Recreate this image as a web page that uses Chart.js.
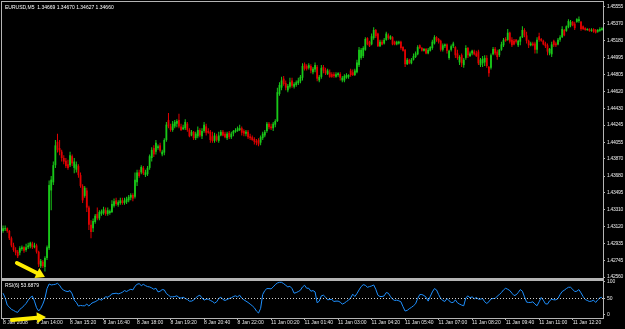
<!DOCTYPE html>
<html><head><meta charset="utf-8">
<script src="https://cdn.jsdelivr.net/npm/chart.js@4.4.1/dist/chart.umd.min.js"></script>
<style>
html,body{margin:0;padding:0;background:#000;width:625px;height:329px;overflow:hidden}
canvas{position:absolute;left:0;top:0}
</style></head><body>
<canvas id="main" width="625" height="329"></canvas>
<canvas id="rsi" width="625" height="329"></canvas>
<script>
const symbolTitle = 'EURUSD,M5  1.34669 1.34670 1.34627 1.34660';
const rsiTitle = 'RSI(6) 53.6879';
const timeTickIndex = [0,16,32,48,64,80,96,112,128,144,160,176,192,208,224,240,256,272];
const timeTickLabels = ['8 Jan 2008','8 Jan 14:00','8 Jan 15:20','8 Jan 16:40','8 Jan 18:00','8 Jan 19:20','8 Jan 20:40','8 Jan 22:00','11 Jan 00:20','11 Jan 01:40','11 Jan 03:00','11 Jan 04:20','11 Jan 05:40','11 Jan 07:00','11 Jan 08:20','11 Jan 09:40','11 Jan 11:00','11 Jan 12:20'];
const priceTicks = [1.42560,1.42745,1.42935,1.43120,1.43310,1.43495,1.43680,1.43870,1.44055,1.44245,1.44430,1.44620,1.44805,1.44995,1.45180,1.45370,1.45555];
const rsiTicks = [0,50,100];

const openP = [
1.4307,1.4309,1.4310,1.4307,1.4299,1.4291,1.4286,1.4284,1.4283,1.4287,
1.4289,1.4286,1.4289,1.4290,1.4293,1.4289,1.4291,1.4284,1.4268,1.4273,
1.4267,1.4277,1.4288,1.4352,1.4361,1.4380,1.4406,1.4399,1.4395,1.4388,
1.4385,1.4381,1.4380,1.4390,1.4377,1.4375,1.4379,1.4369,1.4357,1.4346,
1.4352,1.4333,1.4314,1.4310,1.4317,1.4326,1.4321,1.4326,1.4327,1.4330,
1.4326,1.4327,1.4328,1.4335,1.4341,1.4336,1.4338,1.4341,1.4338,1.4339,
1.4341,1.4344,1.4347,1.4345,1.4361,1.4372,1.4372,1.4377,1.4369,1.4370,
1.4377,1.4388,1.4399,1.4395,1.4399,1.4402,1.4392,1.4394,1.4408,1.4430,
1.4423,1.4419,1.4423,1.4426,1.4430,1.4423,1.4420,1.4421,1.4426,1.4419,
1.4413,1.4417,1.4410,1.4412,1.4419,1.4412,1.4418,1.4423,1.4418,1.4417,
1.4412,1.4407,1.4412,1.4407,1.4413,1.4417,1.4415,1.4410,1.4416,1.4411,
1.4415,1.4417,1.4418,1.4419,1.4421,1.4418,1.4415,1.4417,1.4412,1.4411,
1.4409,1.4407,1.4408,1.4405,1.4410,1.4413,1.4418,1.4426,1.4423,1.4421,
1.4425,1.4429,1.4459,1.4466,1.4476,1.4471,1.4463,1.4467,1.4474,1.4467,
1.4469,1.4471,1.4473,1.4477,1.4492,1.4490,1.4488,1.4490,1.4483,1.4486,
1.4489,1.4474,1.4478,1.4489,1.4486,1.4481,1.4483,1.4481,1.4481,1.4478,
1.4480,1.4481,1.4474,1.4474,1.4477,1.4478,1.4485,1.4483,1.4480,1.4483,
1.4491,1.4499,1.4501,1.4508,1.4521,1.4517,1.4514,1.4521,1.4530,1.4526,
1.4512,1.4517,1.4515,1.4519,1.4524,1.4520,1.4522,1.4517,1.4514,1.4515,
1.4517,1.4511,1.4508,1.4492,1.4497,1.4493,1.4497,1.4500,1.4503,1.4513,
1.4510,1.4507,1.4509,1.4504,1.4507,1.4510,1.4515,1.4522,1.4520,1.4518,
1.4508,1.4512,1.4514,1.4499,1.4508,1.4512,1.4511,1.4504,1.4494,1.4502,
1.4491,1.4499,1.4510,1.4501,1.4504,1.4506,1.4504,1.4506,1.4491,1.4493,
1.4494,1.4499,1.4489,1.4488,1.4503,1.4509,1.4506,1.4502,1.4508,1.4513,
1.4520,1.4519,1.4527,1.4519,1.4518,1.4519,1.4513,1.4517,1.4522,1.4530,
1.4524,1.4518,1.4513,1.4515,1.4515,1.4508,1.4523,1.4520,1.4518,1.4515,
1.4513,1.4504,1.4503,1.4518,1.4515,1.4514,1.4519,1.4522,1.4530,1.4529,
1.4533,1.4535,1.4539,1.4537,1.4539,1.4540,1.4539,1.4534,1.4532,1.4530,
1.4531,1.4529,1.4531,1.4530,1.4528,1.4529,1.4530];

const highP = [
1.4313,1.4313,1.4311,1.4308,1.4301,1.4294,1.4289,1.4286,1.4290,1.4291,
1.4290,1.4293,1.4294,1.4295,1.4295,1.4294,1.4293,1.4285,1.4276,1.4275,
1.4279,1.4291,1.4363,1.4368,1.4384,1.4408,1.4415,1.4408,1.4397,1.4391,
1.4388,1.4386,1.4395,1.4392,1.4388,1.4384,1.4381,1.4372,1.4359,1.4357,
1.4355,1.4335,1.4319,1.4321,1.4326,1.4333,1.4330,1.4331,1.4334,1.4333,
1.4333,1.4331,1.4341,1.4343,1.4344,1.4341,1.4344,1.4344,1.4344,1.4345,
1.4347,1.4349,1.4349,1.4372,1.4375,1.4375,1.4380,1.4379,1.4375,1.4379,
1.4392,1.4400,1.4402,1.4408,1.4403,1.4405,1.4397,1.4410,1.4428,1.4438,
1.4426,1.4429,1.4430,1.4431,1.4437,1.4426,1.4425,1.4431,1.4428,1.4421,
1.4419,1.4418,1.4417,1.4423,1.4421,1.4421,1.4428,1.4426,1.4421,1.4419,
1.4417,1.4416,1.4415,1.4417,1.4419,1.4419,1.4417,1.4417,1.4418,1.4417,
1.4419,1.4421,1.4423,1.4425,1.4423,1.4420,1.4419,1.4419,1.4415,1.4413,
1.4411,1.4409,1.4410,1.4413,1.4417,1.4419,1.4428,1.4428,1.4426,1.4428,
1.4431,1.4466,1.4472,1.4478,1.4479,1.4474,1.4470,1.4477,1.4477,1.4472,
1.4474,1.4477,1.4480,1.4493,1.4494,1.4492,1.4493,1.4492,1.4489,1.4494,
1.4491,1.4480,1.4491,1.4491,1.4488,1.4487,1.4486,1.4483,1.4483,1.4483,
1.4483,1.4483,1.4479,1.4481,1.4482,1.4481,1.4487,1.4486,1.4487,1.4497,
1.4511,1.4510,1.4512,1.4522,1.4522,1.4518,1.4526,1.4533,1.4531,1.4527,
1.4519,1.4519,1.4521,1.4528,1.4526,1.4524,1.4523,1.4518,1.4518,1.4518,
1.4518,1.4512,1.4509,1.4499,1.4498,1.4499,1.4504,1.4506,1.4513,1.4514,
1.4511,1.4510,1.4510,1.4510,1.4512,1.4519,1.4524,1.4523,1.4521,1.4519,
1.4515,1.4515,1.4515,1.4508,1.4514,1.4517,1.4512,1.4508,1.4502,1.4504,
1.4499,1.4513,1.4511,1.4506,1.4508,1.4508,1.4507,1.4508,1.4499,1.4501,
1.4502,1.4502,1.4490,1.4504,1.4511,1.4511,1.4508,1.4509,1.4517,1.4521,
1.4522,1.4531,1.4528,1.4522,1.4520,1.4520,1.4519,1.4523,1.4534,1.4532,
1.4528,1.4519,1.4517,1.4517,1.4517,1.4522,1.4527,1.4521,1.4519,1.4517,
1.4515,1.4510,1.4517,1.4519,1.4517,1.4521,1.4524,1.4534,1.4531,1.4535,
1.4542,1.4541,1.4540,1.4539,1.4543,1.4545,1.4540,1.4535,1.4533,1.4532,
1.4532,1.4532,1.4532,1.4531,1.4531,1.4533,1.4533];

const lowP = [
1.4305,1.4307,1.4305,1.4297,1.4289,1.4284,1.4280,1.4277,1.4280,1.4285,
1.4283,1.4284,1.4287,1.4288,1.4287,1.4288,1.4282,1.4267,1.4266,1.4266,
1.4262,1.4275,1.4286,1.4330,1.4358,1.4377,1.4394,1.4391,1.4384,1.4381,
1.4377,1.4375,1.4378,1.4379,1.4371,1.4372,1.4366,1.4355,1.4338,1.4344,
1.4328,1.4308,1.4299,1.4306,1.4315,1.4319,1.4319,1.4324,1.4325,1.4324,
1.4324,1.4325,1.4327,1.4333,1.4335,1.4334,1.4336,1.4336,1.4336,1.4337,
1.4339,1.4341,1.4340,1.4343,1.4357,1.4366,1.4370,1.4369,1.4367,1.4368,
1.4375,1.4384,1.4389,1.4392,1.4397,1.4394,1.4390,1.4391,1.4406,1.4421,
1.4417,1.4417,1.4421,1.4422,1.4421,1.4418,1.4419,1.4419,1.4417,1.4411,
1.4412,1.4408,1.4408,1.4410,1.4411,1.4409,1.4416,1.4413,1.4415,1.4405,
1.4405,1.4405,1.4406,1.4405,1.4412,1.4412,1.4410,1.4408,1.4409,1.4409,
1.4412,1.4416,1.4417,1.4418,1.4413,1.4412,1.4412,1.4409,1.4408,1.4407,
1.4403,1.4402,1.4401,1.4402,1.4408,1.4411,1.4416,1.4420,1.4419,1.4418,
1.4422,1.4428,1.4457,1.4463,1.4468,1.4463,1.4461,1.4465,1.4466,1.4465,
1.4467,1.4469,1.4471,1.4474,1.4485,1.4485,1.4486,1.4482,1.4481,1.4483,
1.4473,1.4472,1.4476,1.4482,1.4480,1.4480,1.4477,1.4477,1.4477,1.4477,
1.4478,1.4474,1.4472,1.4472,1.4476,1.4476,1.4478,1.4479,1.4479,1.4482,
1.4489,1.4497,1.4499,1.4507,1.4513,1.4511,1.4513,1.4519,1.4521,1.4511,
1.4511,1.4513,1.4514,1.4518,1.4519,1.4519,1.4513,1.4513,1.4513,1.4514,
1.4508,1.4506,1.4489,1.4491,1.4492,1.4492,1.4496,1.4499,1.4502,1.4509,
1.4506,1.4506,1.4503,1.4503,1.4506,1.4508,1.4514,1.4517,1.4515,1.4506,
1.4506,1.4510,1.4504,1.4497,1.4506,1.4510,1.4499,1.4497,1.4491,1.4489,
1.4488,1.4497,1.4499,1.4500,1.4502,1.4502,1.4500,1.4491,1.4489,1.4489,
1.4490,1.4488,1.4478,1.4486,1.4502,1.4502,1.4497,1.4500,1.4507,1.4511,
1.4517,1.4518,1.4515,1.4511,1.4513,1.4515,1.4511,1.4513,1.4521,1.4522,
1.4515,1.4510,1.4512,1.4512,1.4504,1.4504,1.4517,1.4517,1.4513,1.4510,
1.4502,1.4502,1.4500,1.4511,1.4511,1.4513,1.4517,1.4521,1.4523,1.4528,
1.4532,1.4533,1.4534,1.4530,1.4538,1.4538,1.4529,1.4530,1.4529,1.4529,
1.4528,1.4528,1.4527,1.4526,1.4527,1.4528,1.4529];

const closeP = [
1.4310,1.4310,1.4307,1.4299,1.4291,1.4286,1.4283,1.4279,1.4288,1.4289,
1.4285,1.4289,1.4291,1.4294,1.4289,1.4291,1.4284,1.4270,1.4274,1.4268,
1.4277,1.4289,1.4358,1.4364,1.4380,1.4402,1.4397,1.4395,1.4388,1.4384,
1.4379,1.4377,1.4391,1.4382,1.4384,1.4381,1.4369,1.4357,1.4341,1.4355,
1.4333,1.4314,1.4306,1.4318,1.4324,1.4321,1.4328,1.4329,1.4331,1.4326,
1.4330,1.4329,1.4337,1.4340,1.4337,1.4339,1.4341,1.4338,1.4341,1.4343,
1.4345,1.4347,1.4343,1.4364,1.4372,1.4368,1.4378,1.4371,1.4372,1.4377,
1.4390,1.4397,1.4392,1.4405,1.4401,1.4396,1.4395,1.4408,1.4425,1.4423,
1.4419,1.4426,1.4428,1.4429,1.4423,1.4419,1.4422,1.4428,1.4419,1.4412,
1.4417,1.4410,1.4415,1.4419,1.4413,1.4418,1.4425,1.4416,1.4416,1.4408,
1.4407,1.4413,1.4408,1.4413,1.4417,1.4413,1.4411,1.4415,1.4411,1.4415,
1.4418,1.4419,1.4421,1.4421,1.4416,1.4415,1.4417,1.4411,1.4410,1.4408,
1.4406,1.4405,1.4403,1.4411,1.4415,1.4417,1.4426,1.4422,1.4421,1.4426,
1.4429,1.4461,1.4469,1.4474,1.4470,1.4466,1.4468,1.4472,1.4468,1.4470,
1.4472,1.4474,1.4478,1.4490,1.4487,1.4487,1.4491,1.4485,1.4487,1.4491,
1.4476,1.4478,1.4488,1.4485,1.4482,1.4485,1.4478,1.4478,1.4479,1.4481,
1.4482,1.4477,1.4477,1.4479,1.4480,1.4480,1.4480,1.4480,1.4485,1.4494,
1.4508,1.4508,1.4510,1.4520,1.4514,1.4512,1.4523,1.4530,1.4523,1.4512,
1.4517,1.4514,1.4519,1.4526,1.4521,1.4523,1.4514,1.4514,1.4517,1.4517,
1.4510,1.4507,1.4492,1.4497,1.4493,1.4497,1.4501,1.4504,1.4511,1.4510,
1.4507,1.4509,1.4504,1.4508,1.4511,1.4517,1.4522,1.4519,1.4517,1.4508,
1.4513,1.4514,1.4507,1.4507,1.4512,1.4515,1.4502,1.4499,1.4500,1.4493,
1.4497,1.4510,1.4502,1.4504,1.4507,1.4503,1.4501,1.4493,1.4497,1.4498,
1.4499,1.4490,1.4482,1.4502,1.4509,1.4504,1.4500,1.4508,1.4514,1.4519,
1.4518,1.4527,1.4517,1.4513,1.4514,1.4517,1.4518,1.4522,1.4530,1.4524,
1.4518,1.4513,1.4515,1.4513,1.4508,1.4519,1.4519,1.4518,1.4514,1.4512,
1.4506,1.4509,1.4514,1.4513,1.4513,1.4519,1.4522,1.4531,1.4524,1.4534,
1.4540,1.4539,1.4535,1.4532,1.4542,1.4542,1.4531,1.4531,1.4530,1.4531,
1.4529,1.4530,1.4528,1.4527,1.4530,1.4531,1.4532];

const rsiValues = [
66,52,30,24,17,14,10,8,17,22,
28,35,45,53,57,42,22,12,20,33,
50,80,94,91,92,93,96,90,80,75,
72,71,74,64,45,38,27,29,28,28,
33,27,34,38,40,44,48,45,50,55,
54,58,64,65,66,64,66,69,74,71,
75,78,76,87,93,95,89,93,89,86,
85,82,78,81,70,72,77,76,65,60,
55,55,56,58,53,51,54,50,47,42,
42,45,52,57,60,52,45,48,48,44,
41,36,40,50,54,47,44,47,50,52,
56,58,55,60,51,46,42,38,33,28,
22,12,6,20,62,74,80,80,79,85,
92,97,99,99,95,90,85,87,80,66,
68,71,75,85,90,81,81,72,74,70,
37,42,58,60,54,46,47,47,41,42,
42,39,33,36,41,45,52,63,56,65,
76,86,92,90,84,86,88,91,78,60,
56,56,58,68,66,56,48,44,45,43,
40,25,12,14,19,23,28,34,50,62,
62,59,54,42,56,70,80,76,62,50,
44,41,50,43,38,38,46,37,33,30,
28,52,58,52,55,49,53,48,48,50,
40,35,40,49,50,50,57,62,68,76,
81,78,74,66,59,61,68,77,72,55,
39,38,38,40,33,28,40,53,45,34,
33,43,48,46,46,50,62,71,75,80,
84,84,78,71,72,77,67,56,47,44,
41,42,45,38,46,52,53.6879];

const N = closeP.length;
const UP = '#19c819', DN = '#e10000', FRAME = '#b4b4b4', TXT = '#e6e6e6', ARROW = '#ffee00';
const FONT = "'Liberation Sans', Arial, sans-serif";
const candleColor = closeP.map((c, i) => c >= openP[i] ? UP : DN);
const bodyData = closeP.map((c, i) => ({x: i, y: [openP[i], c]}));
const wickData = closeP.map((c, i) => ({x: i, y: [lowP[i], highP[i]]}));

function drawArrow(ctx, x1, y1, x2, y2) {
  const ang = Math.atan2(y2 - y1, x2 - x1), hl = 9, hw = 5.5;
  const bx = x2 - hl * Math.cos(ang), by = y2 - hl * Math.sin(ang);
  ctx.save();
  ctx.strokeStyle = ARROW; ctx.fillStyle = ARROW; ctx.lineWidth = 4; ctx.lineCap = 'round';
  ctx.beginPath(); ctx.moveTo(x1, y1); ctx.lineTo(bx, by); ctx.stroke();
  ctx.beginPath(); ctx.moveTo(x2, y2);
  ctx.lineTo(bx - hw * Math.sin(ang), by + hw * Math.cos(ang));
  ctx.lineTo(bx + hw * Math.sin(ang), by - hw * Math.cos(ang));
  ctx.closePath(); ctx.fill();
  ctx.restore();
}

const mainDeco = {
  id: 'mainDeco',
  beforeDraw(chart) { chart.ctx.letterSpacing = '-0.3px'; },
  beforeDatasetsDraw(chart) { chart.ctx.letterSpacing = '0px'; },
  afterDraw(chart) {
    const {ctx, chartArea: a, scales: {x, y}} = chart;
    ctx.save();
    ctx.letterSpacing = '0px';
    ctx.fillStyle = FRAME;
    const w = a.right - a.left, h = a.bottom - a.top;
    ctx.fillRect(a.left - 1, a.top - 1, w + 2, 1);
    ctx.fillRect(a.left - 1, a.top - 1, 1, h + 1);
    ctx.fillRect(a.right, a.top - 1, 1, h + 1);
    ctx.fillRect(a.left - 1, a.bottom, w + 2, 2);
    ctx.fillStyle = '#ffffff';
    ctx.font = '5px ' + FONT;
    ctx.textBaseline = 'middle';
    ctx.fillText(symbolTitle, a.left + 3, a.top + 5.5);
    ctx.restore();
    const tx = x.getPixelForValue(20), ty = y.getPixelForValue(priceTicks[0]);
    drawArrow(ctx, tx - 28, ty - 14, tx, ty);
  }
};

new Chart(document.getElementById('main'), {
  type: 'bar',
  data: {
    datasets: [
      {data: bodyData, backgroundColor: candleColor, barThickness: 1.8, minBarLength: 1, grouped: false, borderWidth: 0, inflateAmount: 0},
      {data: wickData, backgroundColor: candleColor, barThickness: 1, grouped: false, borderWidth: 0, inflateAmount: 0}
    ]
  },
  options: {
    responsive: false, animation: false, devicePixelRatio: 1, events: [],
    layout: {padding: {left: 2, top: 2, right: 0, bottom: 51}},
    plugins: {legend: {display: false}, tooltip: {enabled: false}},
    scales: {
      x: {type: 'linear', min: -0.5, max: N - 0.5, offset: false, display: false},
      y: {
        position: 'right', min: 1.42549, max: 1.45610, bounds: 'data',
        afterBuildTicks: s => { s.ticks = priceTicks.map(v => ({value: v})); },
        afterFit: s => { s.width = 22; s.paddingTop = 0; s.paddingBottom = 0; },
        grid: {drawOnChartArea: false, tickLength: 2, tickColor: FRAME, tickWidth: 1},
        border: {display: false},
        ticks: {color: TXT, font: {family: FONT, size: 5}, padding: 2, autoSkip: false, callback: v => v.toFixed(5)}
      }
    }
  },
  plugins: [mainDeco]
});

const rsiDeco = {
  id: 'rsiDeco',
  afterDraw(chart) {
    const {ctx, chartArea: a, scales: {x, y}} = chart;
    ctx.save();
    const w = a.right - a.left, h = a.bottom - a.top;
    ctx.fillStyle = FRAME;
    ctx.fillRect(a.left - 1, a.top - 1, w + 2, 1);
    ctx.fillRect(a.left - 1, a.top - 1, 1, h + 2);
    ctx.fillRect(a.right, a.top - 1, 1, h + 2);
    ctx.fillRect(a.left - 1, a.bottom, w + 2, 1);
    const y50 = Math.round(y.getPixelForValue(rsiTicks[1])) + 0.5;
    ctx.strokeStyle = '#d0d0d0'; ctx.lineWidth = 1; ctx.setLineDash([1, 2]);
    ctx.beginPath(); ctx.moveTo(a.left, y50); ctx.lineTo(a.right, y50); ctx.stroke();
    ctx.setLineDash([]);
    ctx.fillStyle = '#ffffff';
    ctx.font = '5px ' + FONT;
    ctx.textBaseline = 'middle';
    ctx.fillText(rsiTitle, a.left + 3, a.top + 4.5);
    ctx.restore();
    const tx = x.getPixelForValue(20) + 1, ty = a.bottom - 1;
    drawArrow(ctx, tx - 34, ty + 3, tx, ty);
  }
};

new Chart(document.getElementById('rsi'), {
  type: 'line',
  data: {datasets: [{data: rsiValues.map((v, i) => ({x: i, y: v})), borderColor: '#1e90ff', borderWidth: 1, pointRadius: 0, tension: 0, fill: false}]},
  options: {
    responsive: false, animation: false, devicePixelRatio: 1, events: [],
    layout: {padding: {left: 2, top: 281, right: 0, bottom: 0}},
    plugins: {legend: {display: false}, tooltip: {enabled: false}},
    scales: {
      x: {
        type: 'linear', min: -0.5, max: N - 0.5, offset: false,
        afterBuildTicks: s => { s.ticks = timeTickIndex.map(v => ({value: v})); },
        afterFit: s => { s.height = 11; s.paddingLeft = 0; s.paddingRight = 0; },
        grid: {drawOnChartArea: false, tickLength: 2, tickColor: FRAME},
        border: {display: false},
        ticks: {color: TXT, font: {family: FONT, size: 5}, padding: 0, align: 'start', maxRotation: 0, autoSkip: false,
          callback: v => timeTickLabels[timeTickIndex.indexOf(v)]}
      },
      y: {
        position: 'right', min: -9.1, max: 103, bounds: 'data',
        afterBuildTicks: s => { s.ticks = rsiTicks.map(v => ({value: v})); },
        afterFit: s => { s.width = 22; s.paddingTop = 0; s.paddingBottom = 0; },
        grid: {drawOnChartArea: false, tickLength: 2, tickColor: FRAME},
        border: {display: false},
        ticks: {color: TXT, font: {family: FONT, size: 5}, padding: 2, autoSkip: false, callback: v => String(v)}
      }
    }
  },
  plugins: [rsiDeco]
});
</script>
</body></html>
